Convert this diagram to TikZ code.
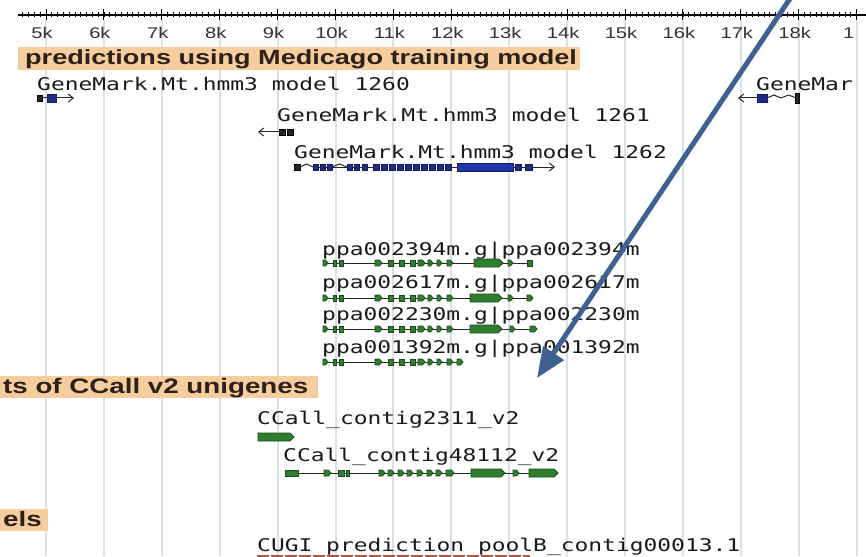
\documentclass[tikz,border=0pt]{standalone}
\usepackage{fontspec}
\usetikzlibrary{arrows.meta}
\newfontfamily\monof[FakeStretch=1.31]{DejaVu Sans Mono}
\newfontfamily\banf[FakeStretch=1.32]{Liberation Sans}
\newfontfamily\rulf[FakeStretch=1.3]{Liberation Sans}
\definecolor{gridc}{HTML}{D6E3E5}
\definecolor{banc}{HTML}{F6CD9E}
\definecolor{bantxt}{HTML}{2B2118}
\definecolor{txtc}{HTML}{1A1A1A}
\definecolor{rulc}{HTML}{333333}
\definecolor{gfill}{HTML}{2F7D2F}
\definecolor{gdraw}{HTML}{1B4A1B}
\definecolor{bfill}{HTML}{1F2C86}
\definecolor{bdraw}{HTML}{141B55}
\definecolor{bbig}{HTML}{1E36AA}
\definecolor{arrc}{HTML}{3F6190}
\definecolor{cugic}{HTML}{A4564C}
\tikzset{
  gridl/.style={draw=gridc, line width=2pt},
  banner/.style={fill=banc},
  bantext/.style={font=\banf\bfseries\fontsize{20.5}{24}\selectfont, text=bantxt, anchor=base west, inner sep=0pt},
  lbl/.style={font=\monof\fontsize{17.5}{20}\selectfont, text=txtc, anchor=base west, inner sep=0pt},
  rul/.style={font=\rulf\fontsize{15.5}{18}\selectfont, text=rulc, anchor=base, inner sep=0pt},
  intr/.style={draw=black!85, line width=1pt},
  exG/.style={fill=gfill, draw=gdraw, line width=0.8pt},
  exB/.style={fill=bfill, draw=bdraw, line width=0.8pt},
  exBB/.style={fill=bbig, draw=bdraw, line width=0.8pt},
  exK/.style={fill=black!85, draw=black, line width=0.6pt},
  bigarrow/.style={draw=arrc, line width=5pt, -{Triangle[length=30pt,width=24pt]}},
  barb/.style={-{Straight Barb[length=5pt,width=8pt]}}
}
\newcommand\gbox[4][exG]{\path[#1] (#2,#4-3) rectangle (#3,#4+3);}
\newcommand\gbig[4][exG]{\path[#1] (#2,#4-4) rectangle (#3,#4+4);}
\newcommand\gpt[4][exG]{\path[#1] (#2,#4-3) -- (#3-2.5,#4-3) -- (#3,#4) -- (#3-2.5,#4+3) -- (#2,#4+3) -- cycle;}
\newcommand\gbigpt[4][exG]{\path[#1] (#2,#4-4) -- (#3-4,#4-4) -- (#3,#4) -- (#3-4,#4+4) -- (#2,#4+4) -- cycle;}
\newcommand\ghat[3]{\draw[intr] (#1,#3) -- ({(#1+#2)/2},#3-3) -- (#2,#3);}
\begin{document}
\begin{tikzpicture}[x=1pt,y=-1pt]
\useasboundingbox (0,0) rectangle (866,556);
\clip (0,0) rectangle (866,556);
\fill[white] (0,0) rectangle (866,556);
% grid
\foreach \i in {0,...,14} \draw[gridl] (46+57.9*\i,20) -- (46+57.9*\i,556);
% ruler
\draw[black, line width=1.2pt] (18,15) -- (866,15);
\foreach \i in {-4,...,140} \draw[black, line width=0.8pt] (46+5.79*\i,12.5) -- (46+5.79*\i,17.5);
\foreach \i in {0,...,14} \draw[black, line width=1pt] (46+57.9*\i,9.5) -- (46+57.9*\i,20.5);
\foreach \k [count=\i from 0] in {5,...,18} \node[rul] (r\k) at (46+57.9*\i-4,38.5) {\k k};
\node[rul, anchor=base west] (r19) at (843,38.5) {1};
% banners
\path[banner] (18,47) rectangle (580,70);
\node[bantext] (ban1) at (25,65) {predictions using Medicago training model};
\path[banner] (0,376) rectangle (318,398);
\node[bantext, font=\banf\bfseries\fontsize{21}{24}\selectfont] (ban2) at (3,393.5) {ts of CCall v2 unigenes};
\path[banner] (0,509) rectangle (48,531);
\node[bantext, font=\banf\bfseries\fontsize{21}{24}\selectfont] (ban3) at (3,526.5) {els};
% GeneMark 1260
\node[lbl] (g1260) at (37,90.5) {GeneMark.Mt.hmm3 model 1260};
\draw[intr] (42,98) -- (47,98);
\draw[intr, barb] (56,98) -- (74,98);
\gbox[exK]{37}{42}{98}
\gbig[exB]{47}{56}{98}
% GeneMar right
\node[lbl] (gright) at (756,90.5) {GeneMar};
\draw[intr, barb] (757,98) -- (738,98);
\gbig[exB]{757}{767}{98}
\ghat{767}{781}{98}
\ghat{781}{796}{98}
\path[exK] (795,93) rectangle (799,103);
% GeneMark 1261
\node[lbl] (g1261) at (277,122) {GeneMark.Mt.hmm3 model 1261};
\draw[intr, barb] (279,132) -- (258,132);
\gbox[exK]{279}{285}{132}
\gbox[exK]{287}{293}{132}
% GeneMark 1262
\node[lbl] (g1262) at (294,158) {GeneMark.Mt.hmm3 model 1262};
\ghat{300}{313}{167}
\draw[intr] (318,167) -- (347,167);
\ghat{332}{347}{167}
\draw[intr] (347,167) -- (373,167);
\draw[intr] (445,167) -- (457,167);
\draw[intr, barb] (513,167) -- (555,167);
\gbox[exK]{294}{300}{167}
\gbox[exB]{313}{318}{167}
\gbox[exB]{320}{325}{167}
\gbox[exB]{327}{332}{167}
\gbox[exB]{347}{352}{167}
\gbox[exB]{354}{359}{167}
\gbox[exB]{362}{367}{167}
\foreach \a in {373,381,...,445} {\gbox[exB]{\a}{\a+6}{167}}
\gbig[exBB]{457}{513}{167}
\gbox[exB]{515}{521}{167}
\gbox[exB]{525}{532}{167}
% ppa genes
\node[lbl] (p1) at (322,255) {ppa002394m.g|ppa002394m};
\node[lbl] (p2) at (322,288) {ppa002617m.g|ppa002617m};
\node[lbl] (p3) at (322,320.5) {ppa002230m.g|ppa002230m};
\node[lbl] (p4) at (322,353) {ppa001392m.g|ppa001392m};
\foreach \y/\e in {263/532,298/533,329/537,362/463} {
  \draw[intr] (323,\y) -- (\e,\y);
  \gpt{323}{328}{\y}
  \gbox{333}{336}{\y}
  \gbox{339}{343}{\y}
  \gpt{375}{382}{\y}
  \gbox{388}{393}{\y}
  \gbox{399}{404}{\y}
  \gbox{410}{415}{\y}
  \gpt{418}{425}{\y}
  \gpt{428}{433}{\y}
  \gpt{437}{442}{\y}
  \gpt{447}{453}{\y}
}
\gpt{457}{463}{362}
\gbigpt{474}{503}{263}
\gpt{508}{513}{263}
\gbox{527}{532}{263}
\gbigpt{470}{502}{298}
\gpt{508}{513}{298}
\gpt{527}{533}{298}
\gbigpt{470}{502}{329}
\gpt{510}{515}{329}
\gpt{530}{537}{329}
% CCall
\node[lbl] (c1) at (257,424) {CCall\_contig2311\_v2};
\gbigpt{258}{294}{437}
\node[lbl] (c2) at (283,461) {CCall\_contig48112\_v2};
\draw[intr] (285,473) -- (556,473);
\gbox{285}{298}{473}
\gpt{324}{331}{473}
\gbox{338}{344}{473}
\gbox{346}{349}{473}
\foreach \a in {379,388,398,407,417,427,436} {\gpt{\a}{\a+6}{473}}
\gpt{446}{454}{473}
\gbigpt{471}{505}{473}
\gpt{513}{519}{473}
\gbigpt{529}{558}{473}
% CUGI
\node[lbl] (cugi) at (257,551) {CUGI prediction poolB\_contig00013.1};
\draw[cugic, line width=3pt, dash pattern=on 12pt off 2pt] (257,556) -- (530,556);
% big arrow
\coordinate (atail) at (793,-6);
\coordinate (atip) at (537,378);
\draw[bigarrow] (atail) -- (atip);
\end{tikzpicture}
\end{document}
